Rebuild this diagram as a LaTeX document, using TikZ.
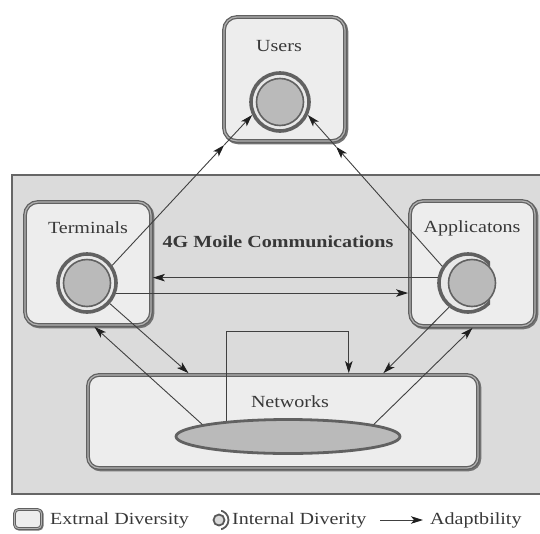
\documentclass[tikz,border=0pt]{standalone}
\usepackage{fontspec}
\setmainfont{Liberation Serif}
\usepackage{graphicx}
\usetikzlibrary{arrows.meta,calc,shapes.geometric}

% slightly widened lettering
\newcommand{\wtext}[1]{\scalebox{1.18}[1]{#1}}

\begin{document}
\begin{tikzpicture}[x=1pt,y=-1pt,
  txt/.style={font=\fontsize{17}{20}\selectfont, text=black!78, inner sep=0pt},
  panel/.style={rectangle, rounded corners=13pt, inner sep=0pt,
     draw=black!62, line width=3.8pt, fill=black!7,
     preaction={draw=black!55, line width=3.8pt, transform canvas={shift={(1.4pt,-1.4pt)}}},
     postaction={draw=black!30, line width=1.2pt}},
  lgpanel/.style={rectangle, rounded corners=4pt, inner sep=0pt,
     draw=black!62, line width=2.8pt, fill=black!7,
     preaction={draw=black!55, line width=2.8pt, transform canvas={shift={(0.8pt,-0.8pt)}}},
     postaction={draw=black!30, line width=0.9pt}},
  ringnode/.style={circle, inner sep=0pt, minimum size=58pt, draw=black!62, line width=3.6pt, fill=black!9},
  corenode/.style={circle, inner sep=0pt, minimum size=47pt, draw=black!62, line width=1.6pt, fill=black!27},
  arr/.style={draw=black!75, line width=0.9pt,
     -{Stealth[length=12pt,width=7.5pt,inset=3pt,color=black!88,fill=black!88]}},
]
\useasboundingbox (0,0) rectangle (540,533);

% shaded zone of the 4G system
\fill[black!14] (12,175) rectangle (560,494);
\draw[black!60, line width=1.3pt] (560,175) -- (12,175) -- (12,494) -- (560,494);

% outer panels
\node[panel, minimum width=121pt, minimum height=124pt] (users) at (284.5,79) {};
\node[panel, minimum width=126pt, minimum height=123pt] (term) at (88,263.5) {};
\node[panel, minimum width=125pt, minimum height=125pt] (app) at (472.5,263.5) {};
\node[panel, rounded corners=11pt, minimum width=390pt, minimum height=93pt] (net) at (283,421.5) {};

% labels
\node[txt] (ulab) at (279,46) {\wtext{Users}};
\node[txt] (tlab) at (88,228) {\wtext{Terminals}};
\node[txt] (alab) at (472,228) {\wtext{Applicatons}};
\node[txt] (nlab) at (290,402) {\wtext{Networks}};
\node[txt, font=\fontsize{17}{20}\selectfont\bfseries] (title) at (278,242) {\wtext{4G Moile Communications}};

% inner diversity rings
\node[ringnode] (ucirc) at (280,102) {};
\node[corenode] (ucore) at (280,102) {};
\node[ringnode] (tcirc) at (87,283) {};
\node[corenode] (tcore) at (87,283) {};
\begin{scope}
  \clip (430,240) rectangle (490,330);
  \node[ringnode] (acirc) at (468,283) {};
\end{scope}
\node[corenode] (acore) at (472,283) {};
\node[ellipse, inner sep=0pt, minimum width=224pt, minimum height=34pt,
      draw=black!62, line width=2.8pt, fill=black!27] (nell) at (288,436.5) {};

% adaptability links
\coordinate (uL) at ($(tcirc.35)!0.80!(ucirc.205)$);
\coordinate (uR) at ($(acirc.147)!0.79!(ucirc.335)$);
\draw[arr] (tcirc.35) -- (uL);
\draw[arr] (uL) -- (ucirc.205);
\draw[arr] (acirc.147) -- (uR);
\draw[arr] (uR) -- (ucirc.335);

\draw[arr] (acirc.170) -- (acirc.170 -| term.east);
\draw[arr] (tcirc.-19) -- (tcirc.-19 -| app.west);

\draw[arr] (tcirc.-42) -- ($(net.north west)!0.26!(net.north east)$);
\draw[arr] (nell.172) -- ($(term.south west)!0.55!(term.south east)$);
\draw[arr] (acirc.-128) -- ($(net.north west)!0.755!(net.north east)$);
\draw[arr] (nell.8) -- (app.south);
\draw[arr] (nell.166) -- ++(0,-90) -| ($(net.north west)!0.667!(net.north east)$);

% legend
\node[lgpanel, minimum width=27pt, minimum height=19pt] (lgbox) at (28,519) {};
\node[txt, anchor=west] (lgext) at (50,520) {\wtext{Extrnal Diversity}};
\begin{scope}
  \clip (221,505) rectangle (236,535);
  \node[circle, inner sep=0pt, minimum size=19pt, draw=black!65, line width=1.8pt] (lgring) at (219,520) {};
\end{scope}
\node[circle, inner sep=0pt, minimum size=11pt, draw=black!65, line width=1.8pt, fill=black!15] (lgint) at (219,520) {};
\node[txt, anchor=west] (lgintt) at (232,520) {\wtext{Internal Diverity}};
\coordinate (la1) at (380,520);
\coordinate (la2) at (423,520);
\draw[arr] (la1) -- (la2);
\node[txt, anchor=west] (lgad) at (430,520) {\wtext{Adaptbility}};
\end{tikzpicture}
\end{document}
